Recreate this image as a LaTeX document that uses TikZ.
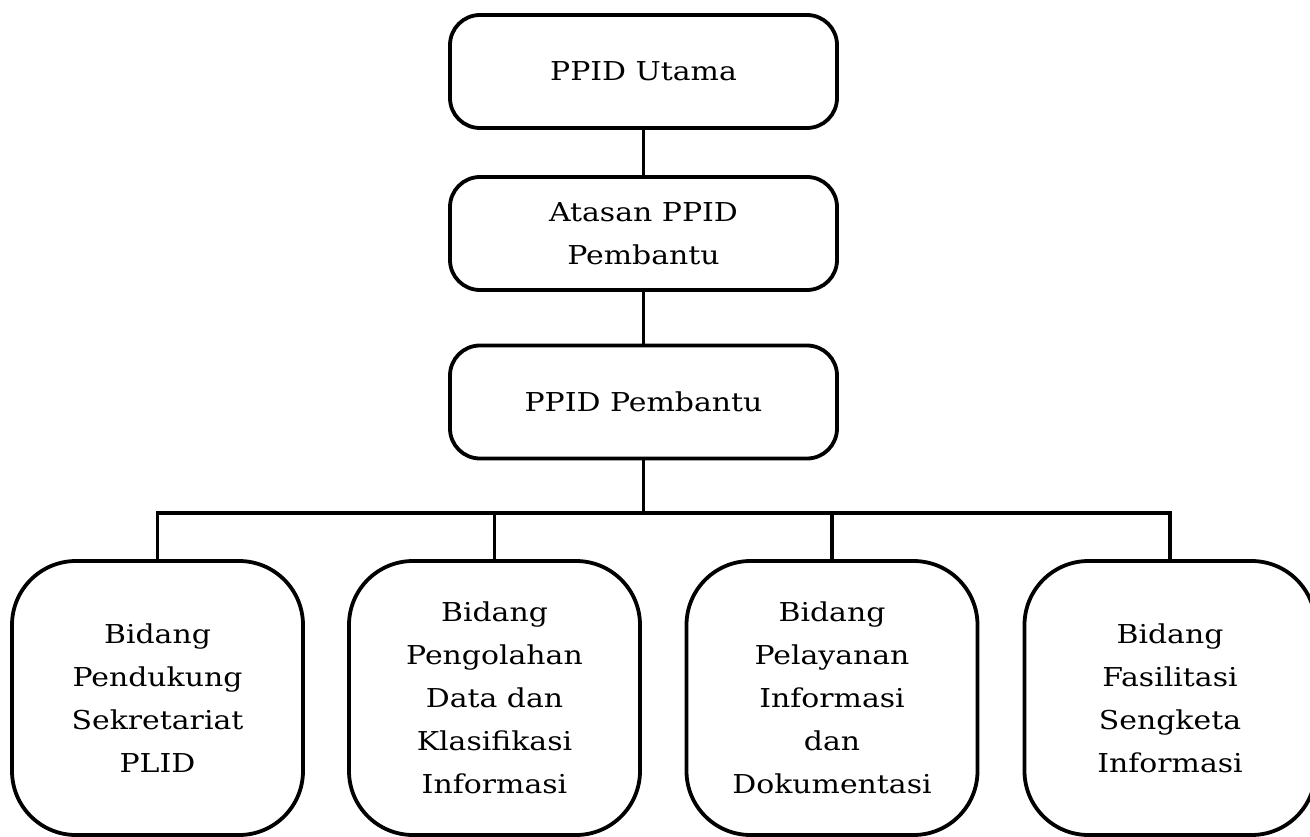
\documentclass[tikz,border=0pt]{standalone}
\usepackage{fontspec}
\setmainfont{DejaVu Serif}[FakeStretch=1.15]
\begin{document}
\begin{tikzpicture}[x=1pt,y=-1pt,
  topbox/.style={draw,line width=3.8pt,rounded corners=30pt,minimum width=387pt,minimum height=113pt,align=center,inner sep=0pt,font=\fontsize{26}{43}\selectfont},
  botbox/.style={draw,line width=3.8pt,rounded corners=64pt,minimum width=291pt,minimum height=274pt,align=center,inner sep=0pt,font=\fontsize{26}{43}\selectfont},
  conn/.style={line width=3.8pt,line join=miter}]
\useasboundingbox (0,0) rectangle (1310,837);
\node[topbox] (u) at (643.5,71.5) {PPID Utama};
\node[topbox] (a) at (643.5,233.5) {Atasan PPID\\Pembantu};
\node[topbox] (p) at (643.5,402) {PPID Pembantu};
\node[botbox] (b1) at (157.5,698) {Bidang\\Pendukung\\Sekretariat\\PLID};
\node[botbox] (b2) at (494.5,698) {Bidang\\Pengolahan\\Data dan\\Klasifikasi\\Informasi};
\node[botbox] (b3) at (832,698) {Bidang\\Pelayanan\\Informasi\\dan\\Dokumentasi};
\node[botbox] (b4) at (1170,698) {Bidang\\Fasilitasi\\Sengketa\\Informasi};
\coordinate (bus) at (643.5,513);
\draw[conn] (u.south) -- (a.north);
\draw[conn] (a.south) -- (p.north);
\draw[conn] (p.south) -- (bus);
\draw[conn] (b1.north) |- (bus) -| (b4.north);
\draw[conn] (b2.north) -- (b2.north |- bus);
\draw[conn] (b3.north) -- (b3.north |- bus);
\end{tikzpicture}
\end{document}
